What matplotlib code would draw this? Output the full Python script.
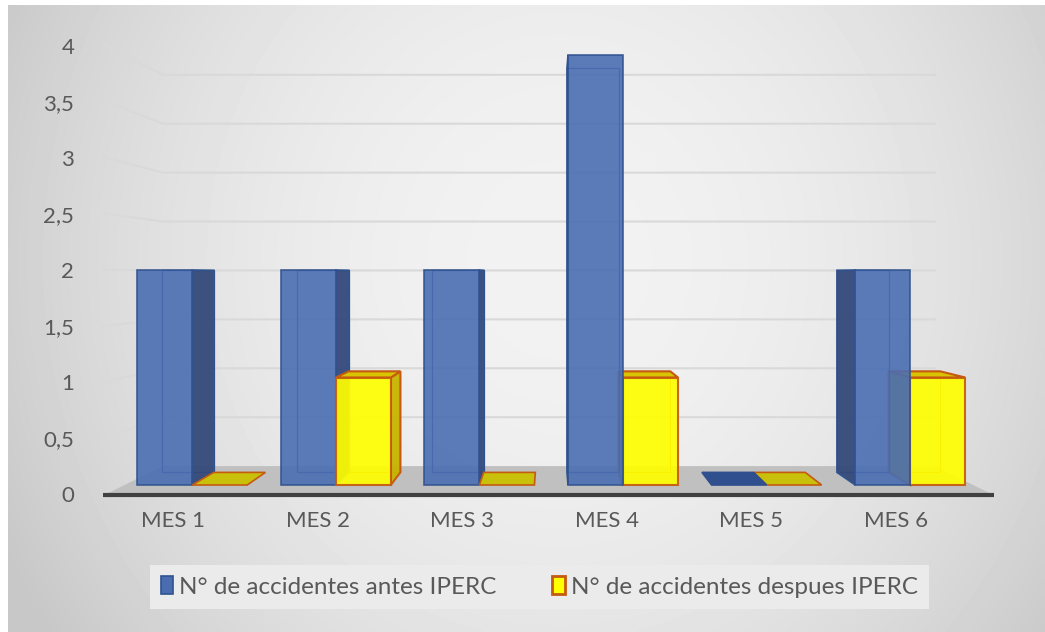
import numpy as np
import matplotlib
matplotlib.use("Agg")
import matplotlib.pyplot as plt
from matplotlib.patches import Polygon, Patch

plt.rcParams['font.family'] = ['Lato', 'DejaVu Sans']

# data
meses = ['MES 1', 'MES 2', 'MES 3', 'MES 4', 'MES 5', 'MES 6']
antes = [2, 2, 2, 4, 0, 2]
despues = [0, 1, 0, 1, 0, 1]
series_names = ['N° de accidentes antes IPERC', 'N° de accidentes despues IPERC']
y_ticks = [0, 0.5, 1, 1.5, 2, 2.5, 3, 3.5, 4]
y_ticklabels = ['0', '0,5', '1', '1,5', '2', '2,5', '3', '3,5', '4']

W, H = 1045, 632
fig = plt.figure(figsize=(W / 100, H / 100), dpi=100)
fig.patch.set_facecolor('white')

# background gradient
bg = fig.add_axes([8 / W, 0, 1 - 8 / W, (H - 5) / H])
bg.set_axis_off()
xx, yy = np.meshgrid(np.linspace(8, W, 300), np.linspace(5, H, 200))
r2 = ((xx - 560) / 520) ** 2 + ((yy - 260) / 560) ** 2
gray = np.clip(242 - 30 * r2, 200, 245) / 255
bg.imshow(gray, cmap='gray', vmin=0, vmax=1, aspect='auto',
          extent=[0, 1, 0, 1], interpolation='bilinear')
bg.set_xlim(0, 1)
bg.set_ylim(0, 1)

# axis for tick labels (side wall scale)
lab = fig.add_axes([100.7 / W, 1 - 494 / H, 867.6 / W, 448 / H])
lab.patch.set_alpha(0)
lab.set_xlim(-0.5, 5.5)
lab.set_ylim(0, 4)
for sp in lab.spines.values():
    sp.set_visible(False)
lab.set_yticks(y_ticks)
lab.set_yticklabels(y_ticklabels)
lab.set_xticks(range(len(meses)))
lab.set_xticklabels(meses)
lab.tick_params(axis='y', length=0, pad=19, labelsize=16, labelcolor='#595959')
lab.tick_params(axis='x', length=0, pad=12, labelsize=16, labelcolor='#595959')

# main drawing axis (front plane of the bars)
ax = fig.add_axes([0, 0, 1, 1])
ax.patch.set_alpha(0)
ax.set_axis_off()
ax.set_xlim(-192 / 143.6, (W - 192) / 143.6)
ax.set_ylim((485 - H) / 107.5, 485 / 107.5)

vx, vy = 2.493, 1.953      # vanishing point
s_back = 0.94              # bar back face
s_wall = 0.91              # back wall
s_front = 1.05             # floor front edge
x_left, x_right = -0.47, 5.44


def P(x, v, s):
    return (vx + (x - vx) * s, vy + (v - vy) * s)


# gridlines on back wall and side wall
for t in y_ticks[1:]:
    a = P(x_left, t, s_front)
    b = P(x_left, t, s_wall)
    c = P(x_right, t, s_wall)
    ax.plot([a[0], b[0], c[0]], [a[1], b[1], c[1]], color='#d9d9d9', lw=1.5, zorder=1)

# floor
floor = Polygon([P(x_left, 0, s_front), P(x_right, 0, s_front),
                 P(x_right, 0, s_wall), P(x_left, 0, s_wall)],
                closed=True, facecolor='#c0c0c0', edgecolor='none', zorder=2)
ax.add_patch(floor)
fa, fb = P(x_left, 0, s_front), P(x_right, 0, s_front)
ax.plot([fa[0], fb[0]], [fa[1], fb[1]], color='#404040', lw=3, zorder=3,
        solid_capstyle='butt')

styles = [
    dict(front='#4a6db2', alpha=0.9, edge='#2f528f', side='#34497a',
         top='#3b5ca0', flat='#2f4f8f', lw=1.2),
    dict(front='#ffff00', alpha=0.92, edge='#c55a11', side='#c8b400',
         top='#d8c400', flat='#c8c00a', lw=1.5),
]

bw = 0.383
for i in range(len(meses)):
    for j, vals in enumerate([antes, despues]):
        st = styles[j]
        v = vals[i]
        xc = i - 0.19 + 0.383 * j
        x0, x1 = xc - bw / 2, xc + bw / 2
        z = 10 + 5 * (4 - abs(xc - vx))
        if v == 0:
            ax.add_patch(Polygon([P(x0, 0, 1), P(x1, 0, 1), P(x1, 0, s_back), P(x0, 0, s_back)],
                                 closed=True, facecolor=st['flat'],
                                 edgecolor=st['edge'] if j == 1 else st['flat'],
                                 lw=1.2, zorder=z))
            continue
        # back face edges
        back = [P(x0, 0, s_back), P(x1, 0, s_back), P(x1, v, s_back), P(x0, v, s_back)]
        ax.add_patch(Polygon(back, closed=True, facecolor='none',
                             edgecolor=st['edge'], lw=0.9, zorder=z))
        # side face
        xs = x1 if x1 < vx else x0
        side = [(xs, 0), (xs, v), P(xs, v, s_back), P(xs, 0, s_back)]
        ax.add_patch(Polygon(side, closed=True, facecolor=st['side'], alpha=0.95,
                             edgecolor=st['edge'], lw=st['lw'], zorder=z + 0.1))
        # top face
        if v < vy - 0.05:
            top = [(x0, v), (x1, v), P(x1, v, s_back), P(x0, v, s_back)]
            ax.add_patch(Polygon(top, closed=True, facecolor=st['top'],
                                 edgecolor=st['edge'], lw=st['lw'], zorder=z + 0.2))
        # front face
        ax.bar(xc, v, width=bw, color=st['front'], alpha=st['alpha'],
               edgecolor=st['edge'], linewidth=st['lw'], zorder=z + 0.3)

handles = [Patch(facecolor=styles[0]['front'], edgecolor=styles[0]['edge'], lw=1.2),
           Patch(facecolor=styles[1]['front'], edgecolor=styles[1]['edge'], lw=2)]
leg = fig.legend(handles, series_names, loc='center', bbox_to_anchor=(0.516, 0.0712),
                 ncol=2, fontsize=17.5, frameon=True, fancybox=False,
                 handlelength=0.5, handleheight=0.75, handletextpad=0.25,
                 columnspacing=2.3, borderpad=0.45, labelcolor='#595959')
leg.get_frame().set_facecolor('#ebebeb')
leg.get_frame().set_linewidth(0)
leg.get_frame().set_alpha(1)

fig.savefig('out.png', dpi=100)
